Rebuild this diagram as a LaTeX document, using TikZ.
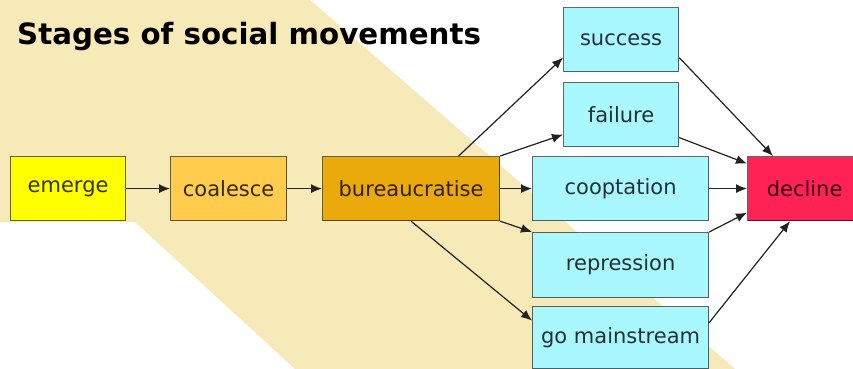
\documentclass[tikz,border=0pt]{standalone}
\usepackage{fontspec}
\setmainfont{DejaVu Sans}
\usetikzlibrary{arrows.meta,calc}
\definecolor{band}{HTML}{F5EAB8}
\definecolor{cemerge}{HTML}{FFFF00}
\definecolor{ccoal}{HTML}{FFCC4D}
\definecolor{cbur}{HTML}{EBAA0C}
\definecolor{ccyan}{HTML}{AAF8FF}
\definecolor{cdecl}{HTML}{FF2255}
\definecolor{arrowcol}{HTML}{222222}
\tikzset{
  stagebox/.style={draw=black, draw opacity=0.6, line width=1.2pt, inner sep=0pt,
    anchor=north west, font=\fontsize{21}{25}\selectfont, text opacity=0.8},
  link/.style={draw=arrowcol, line width=1.2pt, -{Latex[length=11pt,width=9pt]}}
}
\begin{document}
\begin{tikzpicture}[x=1pt,y=-1pt]
\useasboundingbox (0,0) rectangle (853,369);
\clip (0,0) rectangle (853,369);
\fill[white] (0,0) rectangle (853,369);
\fill[band] (0,0) -- (310,0) -- (735,369) -- (295,369) -- (135,222) -- (0,222) -- cycle;
\node[anchor=base west, inner sep=0pt, font=\bfseries\fontsize{29.3}{34}\selectfont] (title) at (17,45) {Stages of social movements};
\node[stagebox, fill=cemerge, minimum width=115pt, minimum height=64pt] (emerge) at (10,156) {emerge};
\node[stagebox, fill=ccoal, minimum width=116pt, minimum height=64pt] (coal) at (170,156) {coalesce};
\node[stagebox, fill=cbur, minimum width=177pt, minimum height=64pt] (bur) at (322,156) {bureaucratise};
\node[stagebox, fill=ccyan, minimum width=115pt, minimum height=64pt] (succ) at (563,7) {success};
\node[stagebox, fill=ccyan, minimum width=115pt, minimum height=64pt] (fail) at (563,82) {failure};
\node[stagebox, fill=ccyan, minimum width=176pt, minimum height=64pt] (coop) at (532,156) {cooptation};
\node[stagebox, fill=ccyan, minimum width=176pt, minimum height=65pt] (repr) at (532,232) {repression};
\node[stagebox, fill=ccyan, minimum width=176pt, minimum height=62pt] (gomain) at (532,306) {go mainstream};
\node[stagebox, fill=cdecl, minimum width=114pt, minimum height=64pt] (decl) at (747,156) {decline};
% connectors
\draw[link] (emerge) -- (coal);
\draw[link] (coal) -- (bur);
\draw[link] ([xshift=47.5pt]bur.north) -- ([yshift=-18pt]succ.west);
\draw[link] (bur.north east) -- ([yshift=-20pt]fail.west);
\draw[link] (bur) -- (coop);
\draw[link] (bur.south east) -- (repr.north west);
\draw[link] (bur.south) -- ([yshift=17pt]gomain.west);
\draw[link] ([yshift=-18pt]succ.east) -- ([xshift=26pt]decl.north west);
\draw[link] ([yshift=-23pt]fail.east) -- ([yshift=25pt]decl.west);
\draw[link] (coop) -- (decl);
\draw[link] (repr.north east) -- ([yshift=-24pt]decl.west);
\draw[link] ([yshift=15pt]gomain.east) -- ([xshift=43pt]decl.south west);
\end{tikzpicture}
\end{document}
